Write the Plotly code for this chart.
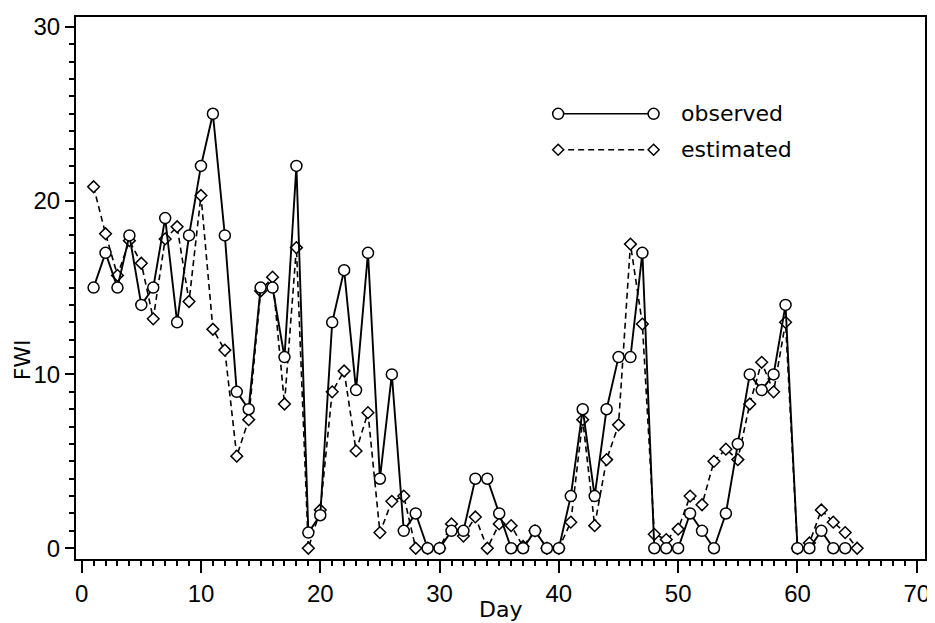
import plotly.graph_objects as go

# ---- data ----
days_observed = list(range(1, 65))
observed = [15, 17, 15, 18, 14, 15, 19, 13, 18, 22,
            25, 18, 9, 8, 15, 15, 11, 22, 0.9, 1.9,
            13, 16, 9.1, 17, 4, 10, 1, 2, 0, 0,
            1, 1, 4, 4, 2, 0, 0, 1, 0, 0,
            3, 8, 3, 8, 11, 11, 17, 0, 0, 0,
            2, 1, 0, 2, 6, 10, 9.1, 10, 14, 0,
            0, 1, 0, 0]

days_estimated = list(range(1, 66))
estimated = [20.8, 18.1, 15.7, 17.7, 16.4, 13.2, 17.8, 18.5, 14.2, 20.3,
             12.6, 11.4, 5.3, 7.4, 14.8, 15.6, 8.3, 17.3, 0, 2.2,
             9.0, 10.2, 5.6, 7.8, 0.9, 2.7, 3.0, 0, 0, 0,
             1.4, 0.7, 1.8, 0, 1.4, 1.3, 0.1, 1.0, 0, 0,
             1.5, 7.4, 1.3, 5.1, 7.1, 17.5, 12.9, 0.8, 0.5, 1.1,
             3.0, 2.5, 5.0, 5.7, 5.1, 8.3, 10.7, 9.0, 13.0, 0,
             0.3, 2.2, 1.5, 0.9, 0]

x_ticks = [0, 10, 20, 30, 40, 50, 60, 70]
y_ticks = [0, 10, 20, 30]
series_names = ["observed", "estimated"]

TICK_FONT = "Liberation Sans, Arial, sans-serif"
TEXT_FONT = "DejaVu Sans, Verdana, sans-serif"

# the page shows the figure with an 8px body margin, so the figure is
# built 8px smaller and every pixel position is taken relative to (8, 8)
OFF = 8
FIG_W, FIG_H = 935 - OFF, 623 - OFF
L, T, W, H = 76 - OFF, 16 - OFF, 854, 543

fig = go.Figure()

fig.add_trace(go.Scatter(
    x=days_estimated, y=estimated, mode="lines+markers", name=series_names[1],
    line=dict(color="black", width=1.6, dash="6px,4px"),
    marker=dict(symbol="diamond", size=9, color="white",
                line=dict(color="black", width=1.5)),
    showlegend=False))

fig.add_trace(go.Scatter(
    x=days_observed, y=observed, mode="lines+markers", name=series_names[0],
    line=dict(color="black", width=1.9),
    marker=dict(symbol="circle", size=11, color="white",
                line=dict(color="black", width=1.5)),
    showlegend=False))


def px(xp):
    """page pixel x -> paper x"""
    return (xp - OFF - L) / W


def py(yp):
    """page pixel y -> paper y"""
    return (T + H - (yp - OFF)) / H


shapes = []
annotations = []
rows = [(113, "solid", "circle", series_names[0]),
        (149, "6px,4px", "diamond", series_names[1])]
for ypix, dash, sym, label in rows:
    yy = py(ypix)
    shapes.append(dict(type="line", xref="paper", yref="paper",
                       x0=px(561), x1=px(657), y0=yy, y1=yy,
                       line=dict(color="black", width=1.6, dash=dash), layer="above"))
    for xc in (561, 657):
        if sym == "circle":
            shapes.append(dict(type="circle", xref="paper", yref="paper",
                               xsizemode="pixel", ysizemode="pixel",
                               xanchor=px(xc), yanchor=yy,
                               x0=-5.5, x1=5.5, y0=-5.5, y1=5.5,
                               fillcolor="white", line=dict(color="black", width=1.5),
                               layer="above"))
        else:
            shapes.append(dict(type="path", xref="paper", yref="paper",
                               xsizemode="pixel", ysizemode="pixel",
                               xanchor=px(xc), yanchor=yy,
                               path="M0,5.5 L5.5,0 L0,-5.5 L-5.5,0 Z",
                               fillcolor="white", line=dict(color="black", width=1.5),
                               layer="above"))
    annotations.append(dict(text=label, xref="paper", yref="paper",
                            x=px(683), y=yy, xanchor="left", yanchor="middle",
                            showarrow=False,
                            font=dict(family=TEXT_FONT, size=22, color="black")))

# axis titles
annotations.append(dict(text="Day", xref="paper", yref="paper", x=0.5, y=0,
                        xanchor="center", yanchor="top", yshift=-36, showarrow=False,
                        font=dict(family=TEXT_FONT, size=22, color="black")))
annotations.append(dict(text="FWI", xref="paper", yref="paper", x=0, y=py(360),
                        xanchor="center", yanchor="middle", xshift=-54, textangle=-90,
                        showarrow=False,
                        font=dict(family=TEXT_FONT, size=22, color="black")))

fig.update_layout(
    width=FIG_W, height=FIG_H,
    margin=dict(l=L, r=FIG_W - L - W, t=T, b=FIG_H - T - H, pad=0),
    plot_bgcolor="white", paper_bgcolor="white",
    shapes=shapes, annotations=annotations,
    showlegend=False,
)

fig.update_xaxes(
    range=[-0.475, 70.69], showgrid=False, zeroline=False,
    showline=True, linecolor="black", linewidth=2, mirror=True,
    ticks="outside", ticklen=12, tickwidth=2, tickcolor="black",
    tickvals=x_ticks, ticktext=[str(v) for v in x_ticks],
    tickfont=dict(family=TICK_FONT, size=24, color="black"),
    minor=dict(ticks="outside", ticklen=5, tickwidth=1.5, tickcolor="black",
               dtick=1, tick0=0, showgrid=False),
)
fig.update_yaxes(
    range=[-0.62, 30.57], showgrid=False, zeroline=False,
    showline=True, linecolor="black", linewidth=2, mirror=True,
    ticks="outside", ticklen=9, tickwidth=2, tickcolor="black",
    tickvals=y_ticks, ticktext=[str(v) for v in y_ticks],
    tickfont=dict(family=TICK_FONT, size=24, color="black"),
    minor=dict(ticks="outside", ticklen=5, tickwidth=1.5, tickcolor="black",
               dtick=1, tick0=0, showgrid=False),
)

fig.write_html("out.html")
